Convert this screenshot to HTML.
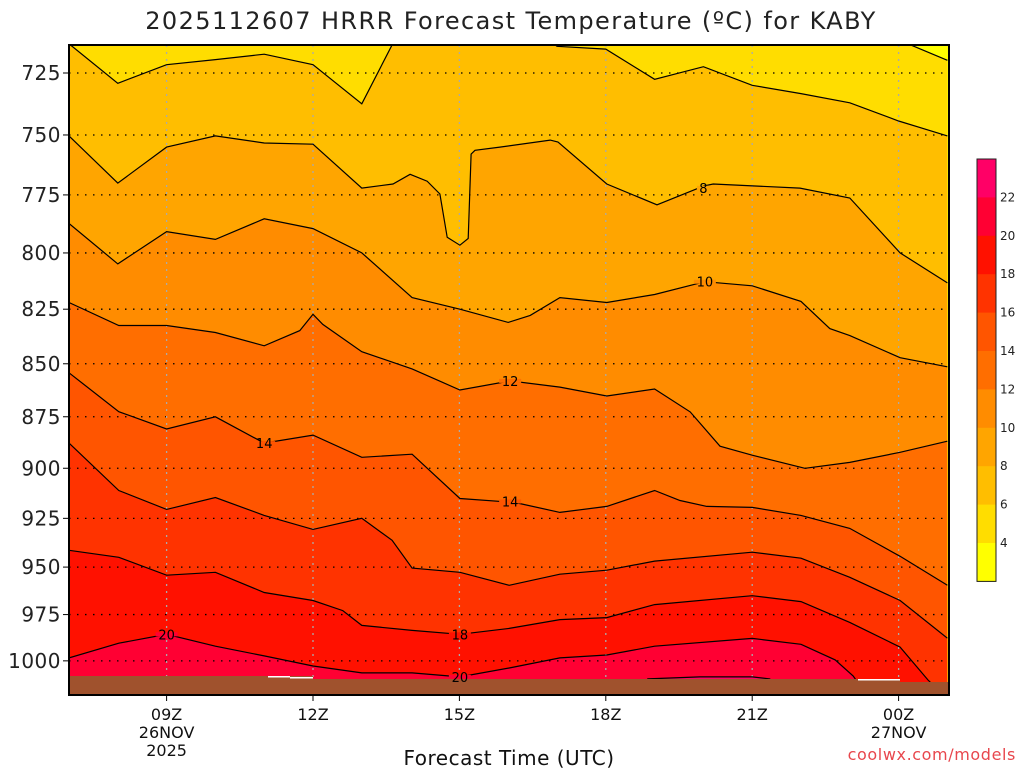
<!DOCTYPE html>
<html><head><meta charset="utf-8">
<style>
html,body{margin:0;padding:0;background:#fff;width:1024px;height:768px;overflow:hidden}
svg text{font-family:"DejaVu Sans","Liberation Sans",sans-serif}
</style></head>
<body>
<svg id="chart" width="1024" height="768" viewBox="0 0 1024 768" xmlns="http://www.w3.org/2000/svg">
<defs><clipPath id="plotClip"><rect x="69" y="45" width="880" height="650"/></clipPath></defs>
<text x="511" y="29" text-anchor="middle" font-size="24" letter-spacing="1.4" fill="#222">2025112607 HRRR Forecast Temperature (ºC) for KABY</text>
<g id="fills" clip-path="url(#plotClip)"></g>
<g id="grid"></g>
<g id="lines" clip-path="url(#plotClip)"></g>
<g id="ground"></g>
<g id="labels"></g>
<rect x="69" y="45" width="880" height="650" fill="none" stroke="#000" stroke-width="2"/>
<g id="axes"></g>
<g id="colorbar"></g>
<text x="509" y="765" text-anchor="middle" font-size="20" letter-spacing="0.5" fill="#111">Forecast Time (UTC)</text>
<text x="1016" y="760" text-anchor="end" font-size="16" letter-spacing="0.6" fill="#e8474d">coolwx.com/models</text>
</svg>
<script>
// ---- data ----
const levels = [4, 6, 8, 10, 12, 14, 16, 18, 20, 22];
const bandColors = ["#ffff00","#ffdd00","#ffbe00","#ffa500","#ff8c00","#ff6e00","#ff5500","#ff3300","#ff1100","#ff0033","#ff0066"];
const t4 = [7, 23, 24, 25];
const p4 = [690, 700, 712, 720];
const t6 = [7,8,9,10,11,12,13,14,15,16,17,18,19,20,21,22,23,24,25];
const p6 = [713.5,729.1,721.7,719.7,717.6,721.7,737.3,700,700,700,714.5,715.6,727.5,722.5,729.9,733.2,736.9,744.3,750.4];
const t8 = [7,8,9,10,11,12,13,13.64,13.99,14.34,14.6,14.75,15.01,15.18,15.24,15.32,15.83,16.86,17.02,18.02,19.05,20.01,20.2,21.98,23,24.03,25];
const p8 = [750.4,770,755,750.4,753.3,753.8,772.1,770.4,766.3,769.2,774.6,793.2,796.6,793.7,757.9,756.3,755,752.1,752.9,770.4,779.2,771.2,770.4,772.1,776.3,800,813.2];
const t10 = [7,8,9,10,11,12,13,14.03,15.01,16,16.45,17.06,18.02,19,20.03,21,22,22.59,23,24.03,25];
const p10 = [787.2,804.8,790.7,794.1,785.2,789.4,800,819.8,825,831,827.8,819.8,822,818.4,812.7,814.5,821.5,833.8,837,847.2,851.4];
const t12 = [7,8.02,9,10,11,11.73,12,12.2,13,14.03,15.01,16.04,17.06,18.02,19,19.73,20.34,21,22.08,23,24.03,25];
const p12 = [822,832.4,832.4,835.6,841.7,834.7,827.3,831.9,844.4,852.4,862.3,858,860.9,865.1,861.8,872.7,889.2,893.6,900,897.1,892.2,886.8];
const t14 = [7,8.02,9,10,11,12,13,14.03,15.01,16.14,17.06,18.02,19,19.52,20.07,21,22,23,24.03,25];
const p14 = [854.2,872.6,880.9,875,887.7,883.8,894.6,893.1,915,917,922,919,911,916,919,919.5,923.5,930.1,944.4,959.5];
const t16 = [7,8.02,9,10,11,12,13,13.62,14.03,15.01,16.02,17.06,18.02,19,21,22,23,24.03,25];
const p16 = [887.7,911,920.5,914.5,923.5,930.6,925,936.2,950.5,952.7,959.5,953.7,951.6,946.9,942.3,945.4,955.3,967.5,987.7];
const t18 = [7,8.02,9,10,11,12,12.61,13,14.03,15.01,16.02,17.06,18.02,19,21,22,23,24.03,24.6,25];
const p18 = [941.3,944.9,954.2,952.7,963.3,967.5,972.9,980.8,983.5,985.6,982.4,977.7,976.6,969.7,965,968.1,979.2,992.5,1010.5,1021];
const t20 = [7,8.02,9,10,11,12,13,14.03,15.01,16.02,17.06,18.02,19,21,22,22.7,23.07,23.4,25];
const p20 = [998.4,990.4,985.6,992,997.3,1002.8,1006.6,1006.6,1008.8,1003.9,998.4,996.8,992,987.8,991,999.5,1008.3,1021,1021];
const t22 = [7,18.5,18.86,19.93,21,21.36,21.6,25];
const p22 = [1025,1025,1009.9,1008.8,1008.8,1009.9,1025,1025];
const pressureTicks = [725,750,775,800,825,850,875,900,925,950,975,1000];
const hourTicks = [9,12,15,18,21,24];
const hourLabels = [["09Z","26NOV","2025"],["12Z"],["15Z"],["18Z"],["21Z"],["00Z","27NOV"]];
const cbLabels = [22,20,18,16,14,12,10,8,6,4];
const contourLabels = [[8,20.0,772],[10,20.03,812.7],[12,16.04,858],[14,11.0,887.7],[14,16.04,916.5],[18,15.01,985.6],[20,9.0,985.6],[20,15.01,1008.8]];

// ---- scales ----
const X0 = 69, PX_PER_H = 48.8, H0 = 7;
function xOf(h){ return X0 + (h - H0) * PX_PER_H; }
function yOf(p){ return 73 + 1828 * Math.log(p / 725); }

const NS = "http://www.w3.org/2000/svg";
function mk(tag, parent){ const e = document.createElementNS(NS, tag); parent.appendChild(e); return e; }

const contours = [[t4,p4],[t6,p6],[t8,p8],[t10,p10],[t12,p12],[t14,p14],[t16,p16],[t18,p18],[t20,p20],[t22,p22]];
const fills = document.getElementById('fills');
const bg = mk('rect', fills);


bg.setAttribute('x', 69); bg.setAttribute('y', 45); bg.setAttribute('width', 880); bg.setAttribute('height', 650);
bg.setAttribute('fill', bandColors[0]);
const lineG = document.getElementById('lines');
contours.forEach((c, i) => {
  const [ts, ps] = c;
  const pts = ts.map((t, k) => xOf(t).toFixed(1) + ',' + yOf(ps[k]).toFixed(1));
  const poly = mk('polygon', fills);
  
  
  poly.setAttribute('points', pts.join(' ') + ' ' + xOf(ts[ts.length-1]) + ',720 ' + xOf(ts[0]) + ',720');
  poly.setAttribute('fill', bandColors[i + 1]);
  const pl = mk('polyline', lineG);
  
  
  pl.setAttribute('points', pts.join(' '));
  pl.setAttribute('fill', 'none');
  pl.setAttribute('stroke', '#000');
  pl.setAttribute('stroke-width', '1.2');
});

// grid
const grid = document.getElementById('grid');
pressureTicks.forEach(p => {
  const l = mk('line', grid);
  
  
  l.setAttribute('x1', 69); l.setAttribute('x2', 949);
  l.setAttribute('y1', yOf(p)); l.setAttribute('y2', yOf(p));
  l.setAttribute('stroke', '#000'); l.setAttribute('stroke-width', '1.3');
  l.setAttribute('stroke-dasharray', '1.5,6.5');
});
hourTicks.forEach(h => {
  const l = mk('line', grid);
  
  
  l.setAttribute('x1', xOf(h)); l.setAttribute('x2', xOf(h));
  l.setAttribute('y1', 45); l.setAttribute('y2', 695);
  l.setAttribute('stroke', '#aaa'); l.setAttribute('stroke-width', '1.3');
  l.setAttribute('stroke-dasharray', '2,5');
});

// ground
const ground = document.getElementById('ground');
[[69,676,244],[313,679,587],[900,682,49]].forEach(r => {
  const g = mk('rect', ground);
  
  
  g.setAttribute('x', r[0]); g.setAttribute('y', r[1]); g.setAttribute('width', r[2]); g.setAttribute('height', 695 - r[1]);
  g.setAttribute('fill', '#a0522d');
});
[[268,676,22,1.5],[290,677,23,1.5],[858,679,42,1.5]].forEach(r => {
  const g = mk('rect', ground);
  
  
  g.setAttribute('x', r[0]); g.setAttribute('y', r[1]); g.setAttribute('width', r[2]); g.setAttribute('height', r[3]);
  g.setAttribute('fill', '#fff');
});

// contour labels: small gap in the line, then text
const labG = document.getElementById('labels');
contourLabels.forEach(c => {
  const [lv, h, p] = c;
  const idx = levels.indexOf(lv);
  const w = String(lv).length * 9 + 4;
  const r = mk('rect', labG);
  
  
  r.setAttribute('x', xOf(h) - w/2); r.setAttribute('y', yOf(p) - 2); r.setAttribute('width', w); r.setAttribute('height', 4);
  r.setAttribute('fill', bandColors[idx + 1]);
  const t = mk('text', labG);
  
  
  t.setAttribute('x', xOf(h)); t.setAttribute('y', yOf(p) + 5);
  t.setAttribute('text-anchor', 'middle'); t.setAttribute('font-size', '13'); t.setAttribute('fill', '#000');
  t.textContent = lv;
});

// axes
const axes = document.getElementById('axes');
pressureTicks.forEach(p => {
  const tk = mk('line', axes);
  
  
  tk.setAttribute('x1', 63); tk.setAttribute('x2', 69); tk.setAttribute('y1', yOf(p)); tk.setAttribute('y2', yOf(p));
  tk.setAttribute('stroke', '#000');
  const t = mk('text', axes);
  
  
  t.setAttribute('x', 61); t.setAttribute('y', yOf(p) + 7);
  t.setAttribute('text-anchor', 'end'); t.setAttribute('font-size', '20'); t.setAttribute('letter-spacing', '0.5'); t.setAttribute('fill', '#222');
  t.textContent = p;
});
hourTicks.forEach((h, i) => {
  const tk = mk('line', axes);
  
  
  tk.setAttribute('x1', xOf(h)); tk.setAttribute('x2', xOf(h)); tk.setAttribute('y1', 695); tk.setAttribute('y2', 701);
  tk.setAttribute('stroke', '#000');
  hourLabels[i].forEach((s, k) => {
    const t = mk('text', axes);
    
    
    t.setAttribute('x', xOf(h)); t.setAttribute('y', 720 + k * 18);
    t.setAttribute('text-anchor', 'middle'); t.setAttribute('font-size', '16'); t.setAttribute('fill', '#111');
    t.textContent = s;
  });
});

// colorbar
const cb = document.getElementById('colorbar');
const CB_TOP = 159, CB_H = 38.4;
for (let i = 0; i < bandColors.length; i++) {
  const r = mk('rect', cb);
  
  
  r.setAttribute('x', 977); r.setAttribute('y', CB_TOP + i * CB_H); r.setAttribute('width', 19); r.setAttribute('height', CB_H + 0.5);
  r.setAttribute('fill', bandColors[bandColors.length - 1 - i]);
}
const fr = mk('rect', cb);


fr.setAttribute('x', 977); fr.setAttribute('y', CB_TOP); fr.setAttribute('width', 19); fr.setAttribute('height', CB_H * 11);
fr.setAttribute('fill', 'none'); fr.setAttribute('stroke', '#222'); fr.setAttribute('stroke-width', '1');
cbLabels.forEach((v, i) => {
  const y = CB_TOP + (i + 1) * CB_H;
  const t = mk('text', cb);
  
  
  t.setAttribute('x', 1000); t.setAttribute('y', y + 4);
  t.setAttribute('font-size', '12'); t.setAttribute('fill', '#222');
  t.textContent = v;
});
</script>
</body></html>
